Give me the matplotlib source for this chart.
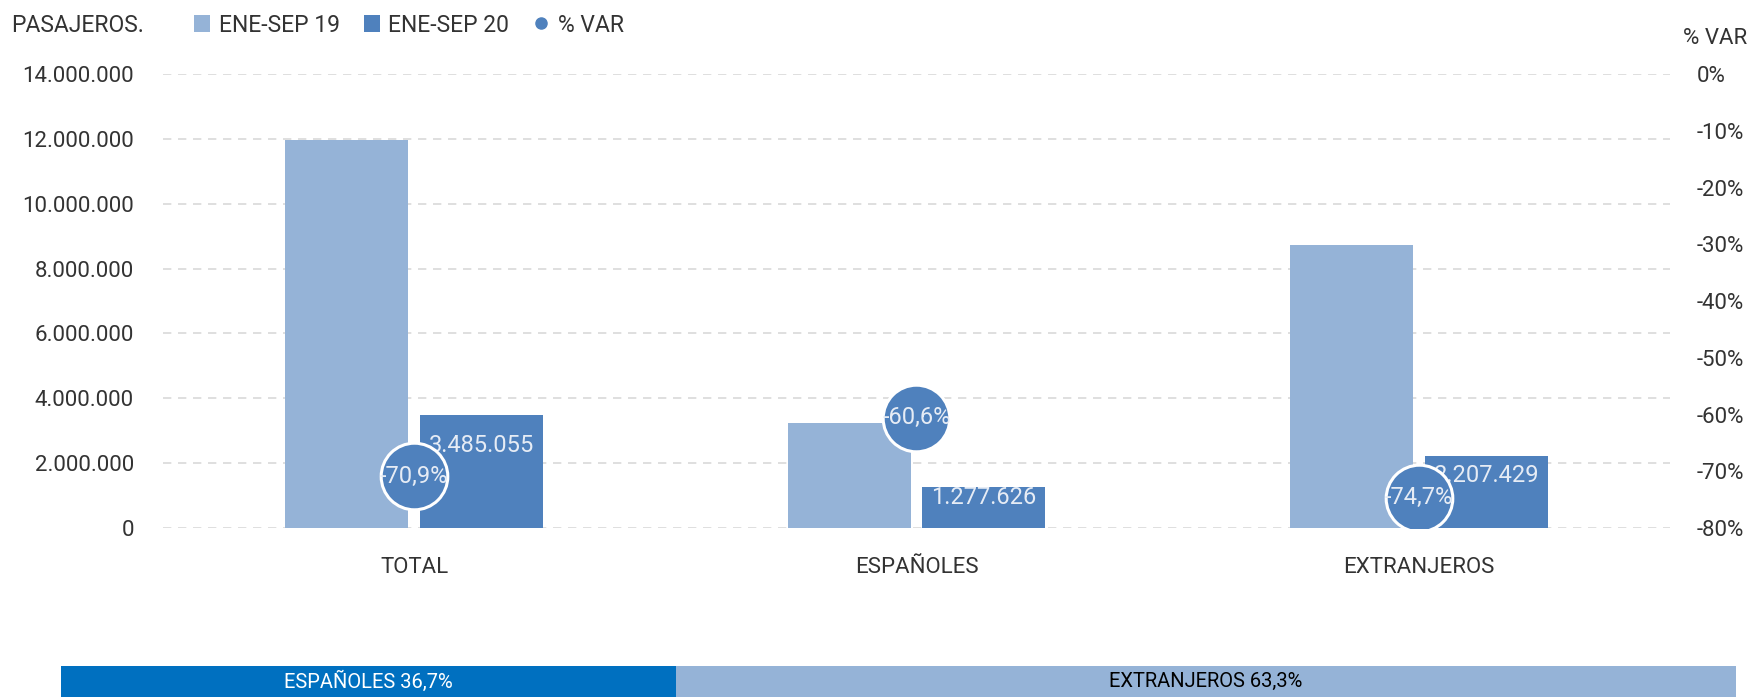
import matplotlib
matplotlib.use("Agg")
import matplotlib.pyplot as plt
import matplotlib.ticker as ticker
from matplotlib.patches import Patch
from matplotlib.lines import Line2D

plt.rcParams.update({
    "font.family": ["Roboto", "DejaVu Sans"],
    "font.weight": "normal",
    "font.size": 16,
    "text.color": "#333333",
    "axes.unicode_minus": False,
})

# data
categories = ["TOTAL", "ESPAÑOLES", "EXTRANJEROS"]
pax_2019 = [11975000, 3242000, 8725000]
pax_2020 = [3485055, 1277626, 2207429]
var_pct = [-70.9, -60.6, -74.7]
series_names = ["ENE-SEP 19", "ENE-SEP 20", "% VAR"]
share_names = ["ESPAÑOLES", "EXTRANJEROS"]
share_pct = [36.7, 63.3]

LIGHT = "#95B3D7"
DARK = "#4F81BD"
TEXT = "#333333"
W, H = 1758, 697


def fmt_miles(v, pos=None):
    return f"{int(round(v)):,}".replace(",", ".")


def fmt_pct(v, decimals=1):
    return f"{v:.{decimals}f}%".replace(".", ",")


fig = plt.figure(figsize=(W / 100, H / 100), dpi=100)
ax = fig.add_axes([163 / W, 1 - 528 / H, (1670 - 163) / W, (528 - 74) / H])
ax2 = ax.twinx()

x = list(range(len(categories)))
bw = 0.245
off = 0.134
ax.bar([i - off for i in x], pax_2019, width=bw, color=LIGHT, zorder=2)
ax.bar([i + off for i in x], pax_2020, width=bw, color=DARK, zorder=2)

# etiquetas de valor dentro de las barras 2020
for i, v in enumerate(pax_2020):
    ylab = v - min(1150000, 0.27 * v)
    ax.text(i + off, ylab, fmt_miles(v), ha="center", va="center",
            color="#E6ECF5", fontsize=17, zorder=3)

ax.set_xlim(-0.5, len(categories) - 0.5)
ax.set_ylim(0, 14000000)
ax.yaxis.set_major_locator(ticker.MultipleLocator(2000000))
ax.yaxis.set_major_formatter(ticker.FuncFormatter(fmt_miles))
ax.set_xticks(x)
ax.set_xticklabels(categories)
ax.tick_params(axis="x", length=0, pad=21, labelsize=16, colors=TEXT)
ax.tick_params(axis="y", length=0, pad=21, labelsize=16, colors=TEXT)
ax.grid(axis="y", color="#D9D9D9", linestyle=(0, (5, 4)), linewidth=1.2)
ax.set_axisbelow(True)
for s in ax.spines.values():
    s.set_visible(False)

ax2.set_ylim(-80, 0)
ax2.yaxis.set_major_locator(ticker.MultipleLocator(10))
ax2.yaxis.set_major_formatter(ticker.FuncFormatter(lambda v, p: f"{v:.0f}%"))
ax2.tick_params(axis="y", length=0, pad=19.5, labelsize=16, colors=TEXT)
for s in ax2.spines.values():
    s.set_visible(False)

# burbujas % VAR
ax2.scatter(x, var_pct, s=2300, color=DARK, edgecolor="white", linewidth=2.2, zorder=4)
for i, v in enumerate(var_pct):
    ax2.text(i, v, fmt_pct(v), ha="center", va="center", color="#E6ECF5",
             fontsize=17, zorder=5)

# titulos
fig.text(11 / W, 1 - 25 / H, "PASAJEROS.", ha="left", va="center", fontsize=16.5)
fig.text(1747 / W, 1 - 38 / H, "% VAR", ha="right", va="center", fontsize=16)

handles = [
    Patch(facecolor=LIGHT, edgecolor="none"),
    Patch(facecolor=DARK, edgecolor="none"),
    Line2D([], [], marker="o", linestyle="none", color=DARK, markersize=8),
]
fig.legend(handles, series_names, loc="center left",
           bbox_to_anchor=(194 / W, 1 - 25 / H), ncol=3, frameon=False,
           fontsize=16.5, handlelength=0.72, handleheight=0.72, handletextpad=0.35,
           columnspacing=1.05, borderpad=0, borderaxespad=0)

# barra inferior de cuota
axb = fig.add_axes([61 / W, 0, (1736 - 61) / W, 31 / H])
left = 0
share_colors = ["#0070C0", LIGHT]
share_text = ["white", "black"]
for name, p, c, tc in zip(share_names, share_pct, share_colors, share_text):
    axb.barh(0, p, left=left, height=1, color=c)
    axb.text(left + p / 2, 0, f"{name} {fmt_pct(p)}", ha="center", va="center",
             color=tc, fontsize=14.5)
    left += p
axb.set_xlim(0, sum(share_pct))
axb.set_ylim(-0.5, 0.5)
axb.axis("off")

fig.savefig("out.png", dpi=100)
